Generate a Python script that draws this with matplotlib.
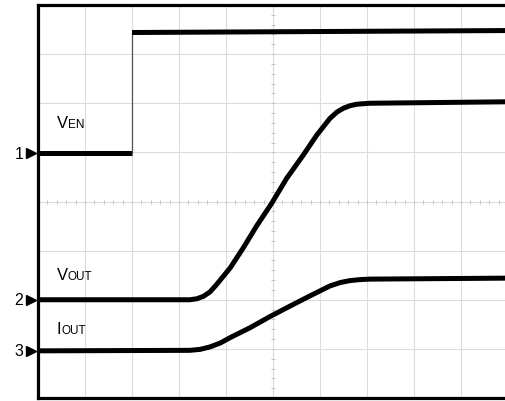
import matplotlib
matplotlib.use("Agg")
import matplotlib.pyplot as plt
import numpy as np

plt.rcParams['font.family'] = ['Liberation Sans', 'DejaVu Sans']

# Oscilloscope traces, in screen divisions (10 x 8 grid)
ven_t = [0.0, 2.0, 2.0, 10.0]
ven_v = [4.98, 4.98, 7.44, 7.48]

vout_t = [0.0, 3.23, 3.38, 3.52, 3.66, 3.80, 4.09, 4.37, 4.65, 4.97, 5.29, 5.64, 5.93,
          6.21, 6.36, 6.50, 6.64, 6.78, 7.06, 10.0]
vout_v = [2.0, 2.0, 2.02, 2.07, 2.16, 2.31, 2.65, 3.06, 3.50, 3.96, 4.47, 4.94, 5.35,
          5.69, 5.82, 5.90, 5.95, 5.98, 6.0, 6.03]

iout_t = [0.0, 3.23, 3.45, 3.66, 3.88, 4.09, 4.51, 4.94, 5.36, 5.79, 6.21, 6.43, 6.64,
          6.85, 7.06, 10.0]
iout_v = [0.96, 0.97, 0.99, 1.04, 1.12, 1.23, 1.43, 1.66, 1.87, 2.08, 2.28, 2.35, 2.39,
          2.41, 2.42, 2.44]

channel_names = ["1", "2", "3"]
channel_levels = [ven_v[0], vout_v[0], iout_v[0]]
trace_labels = [("V", "EN", 0.40, 5.52), ("V", "OUT", 0.40, 2.42), ("I", "OUT", 0.40, 1.32)]

fig = plt.figure(figsize=(5.05, 4.02), dpi=100)
ax = fig.add_axes([38 / 505, 3 / 402, 470 / 505, 393 / 402])
ax.set_xlim(0, 10)
ax.set_ylim(0, 8)
ax.set_xticks([])
ax.set_yticks([])
for s in ax.spines.values():
    s.set_linewidth(2.3)
    s.set_color('black')

grid_c = '#dcdcdc'
for x in range(1, 10):
    ax.axvline(x, color=grid_c, lw=0.8, zorder=1)
for y in range(1, 8):
    ax.axhline(y, color=grid_c, lw=0.8, zorder=1)
# center crosshair minor ticks
xt = np.arange(0, 10.01, 0.2)
ax.plot(xt, np.full_like(xt, 4.0), ls='none', marker='|', ms=3.5, mew=0.7, color='#c4c4c4', zorder=1)
yt = np.arange(0, 8.01, 0.2)
ax.plot(np.full_like(yt, 5.0), yt, ls='none', marker='_', ms=3.5, mew=0.7, color='#c4c4c4', zorder=1)

lw = 3.6
kw = dict(color='black', lw=lw, solid_capstyle='butt', solid_joinstyle='round', zorder=3)
ax.plot(ven_t[:2], ven_v[:2], **kw)
ax.plot(ven_t[1:3], ven_v[1:3], color='#555555', lw=0.9, zorder=3)
ax.plot(ven_t[2:], ven_v[2:], **kw)
ax.plot(vout_t, vout_v, **kw)
ax.plot(iout_t, iout_v, **kw)

for name, lvl in zip(channel_names, channel_levels):
    ax.plot([-0.15], [lvl], marker='>', ms=7.5, color='black', clip_on=False, zorder=5)
    ax.text(-0.41, lvl, name, ha='center', va='center', fontsize=11.5, color='black')

for main, sub, x, y in trace_labels:
    t = ax.text(x, y, main, fontsize=12, ha='left', va='baseline', color='black')
    ax.annotate(sub, xy=(1, 0), xycoords=t, fontsize=8.5, ha='left', va='bottom', color='black')

fig.savefig("out.png", dpi=100)
